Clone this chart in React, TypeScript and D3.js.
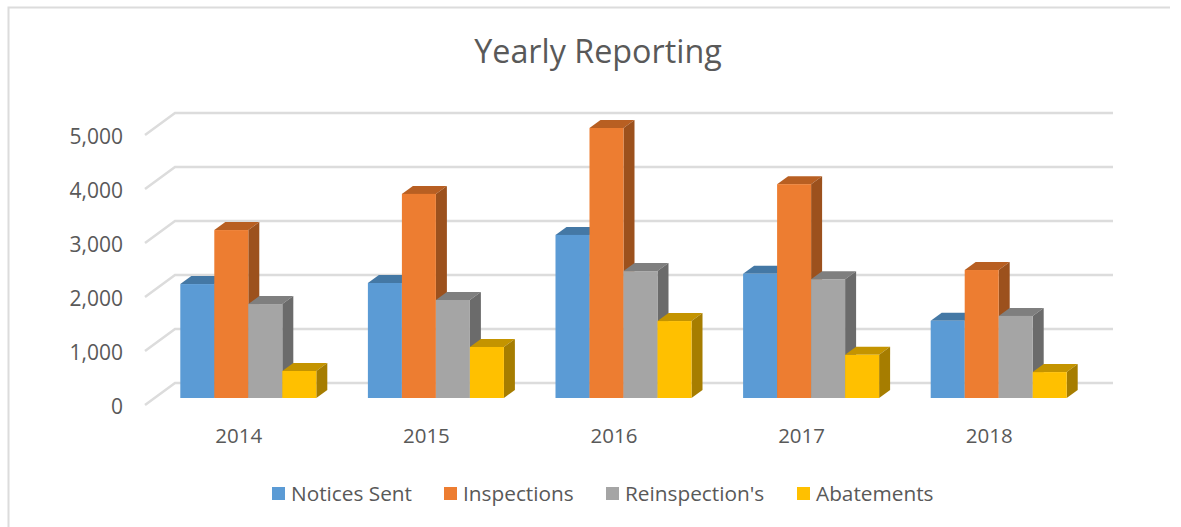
import * as d3 from 'd3';
import React from 'react';

const years = ['2014', '2015', '2016', '2017', '2018'];
const seriesNames = ['Notices Sent', 'Inspections', "Reinspection's", 'Abatements'];
const noticesSent = [2110, 2130, 3020, 2300, 1430];
const inspections = [3110, 3780, 5000, 3960, 2370];
const reinspections = [1740, 1815, 2350, 2200, 1520];
const abatements = [500, 945, 1425, 800, 480];
const yTicks = [0, 1000, 2000, 3000, 4000, 5000];

const seriesValues = [noticesSent, inspections, reinspections, abatements];
const faces = [
  { front: '#5b9bd5', top: '#4478a5', side: '#38699a' },
  { front: '#ed7d31', top: '#b85f22', side: '#9c511d' },
  { front: '#a5a5a5', top: '#7f7f7f', side: '#6b6b6b' },
  { front: '#ffc000', top: '#c49400', side: '#a67d00' },
];

const font = '"Open Sans", sans-serif';
const textColor = '#595959';
const gridColor = '#dcdcdc';

// depth of the fake 3d floor and of a bar
const wall = { dx: 30, dy: -22 };
const bar = { dx: 11, dy: -8 };
const barShift = 9.5;

const x = d3.scaleBand<string>().domain(years).range([145, 1083]).paddingInner(0.275).paddingOuter(0.1375);
const xSeries = d3.scaleBand<string>().domain(seriesNames).range([0, x.bandwidth()]);
const y = d3.scaleLinear().domain([0, 5000]).range([405, 135]);
// bars stand a little behind the front edge of the floor
const barY = d3.scaleLinear().domain([0, 5000]).range([398, 128]);

const poly = (pts: number[][]) => pts.map(p => p.join(',')).join(' ');

export default function App() {
  const legendX = [272, 444, 606, 797];

  return (
    <svg width={1181} height={527} style={{ position: 'absolute', left: 0, top: 0, background: '#fff' }}>
      <path d="M8.5,527V7.5H1170" fill="none" stroke={gridColor} strokeWidth={2} />
      <text x={598} y={63} textAnchor="middle" fontFamily={font} fontSize={32.3} fill={textColor}>Yearly Reporting</text>

      {yTicks.map(t => (
        <g key={t}>
          <polyline
            points={poly([[145, y(t)], [145 + wall.dx, y(t) + wall.dy], [1113, y(t) + wall.dy]])}
            fill="none" stroke={gridColor} strokeWidth={2.5}
          />
          <text x={123} y={y(t) + 9} textAnchor="end" fontFamily={font} fontSize={21} fill={textColor}>
            {d3.format(',')(t)}
          </text>
        </g>
      ))}

      {years.map((year, i) => (
        <g key={year}>
          {seriesNames.map((name, s) => {
            const x0 = x(year)! + barShift + xSeries(name)!;
            const x1 = x0 + xSeries.bandwidth();
            const top = barY(seriesValues[s][i]);
            const base = barY(0);
            return (
              <g key={name}>
                <polygon points={poly([[x0, top], [x0 + bar.dx, top + bar.dy], [x1 + bar.dx, top + bar.dy], [x1, top]])} fill={faces[s].top} />
                <polygon points={poly([[x1, top], [x1 + bar.dx, top + bar.dy], [x1 + bar.dx, base + bar.dy], [x1, base]])} fill={faces[s].side} />
                <rect x={x0} y={top} width={xSeries.bandwidth()} height={base - top} fill={faces[s].front} />
              </g>
            );
          })}
          <text x={x(year)! + x.bandwidth() / 2} y={442.5} textAnchor="middle" fontFamily={font} fontSize={20.5} fill={textColor}>{year}</text>
        </g>
      ))}

      {seriesNames.map((name, s) => (
        <g key={name}>
          <rect x={legendX[s]} y={487} width={13} height={13} fill={faces[s].front} />
          <text x={legendX[s] + 19} y={501} fontFamily={font} fontSize={20.8} fill={textColor}>{name}</text>
        </g>
      ))}
    </svg>
  );
}
